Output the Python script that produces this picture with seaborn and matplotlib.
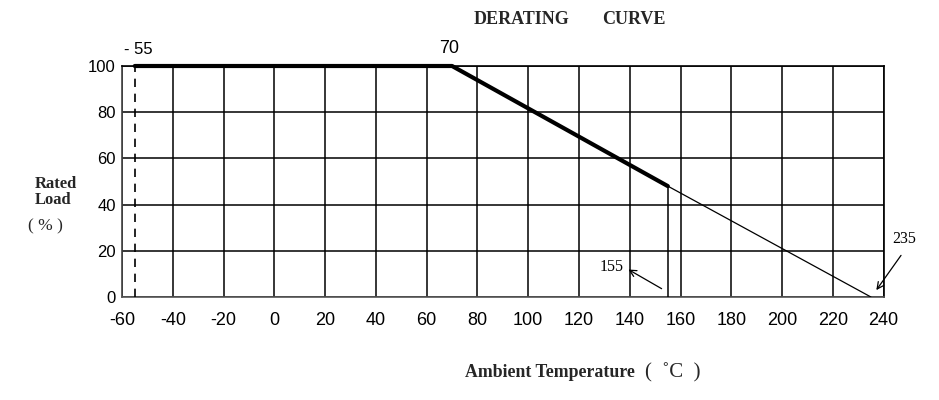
import matplotlib
matplotlib.use("Agg")
import matplotlib.pyplot as plt
import seaborn as sns
import pandas as pd

# ---- data ----
rated_temp = [-55, 70, 155]
rated_load = [100, 100, 48]
ext_temp = [155, 235]
ext_load = [48, 0]
min_temp = -55
x_ticks = [-60, -40, -20, 0, 20, 40, 60, 80, 100, 120, 140, 160, 180, 200, 220, 240]
y_ticks = [0, 20, 40, 60, 80, 100]

sns.set_theme(style="white")
plt.rcParams['font.family'] = ['Liberation Sans', 'DejaVu Sans']
plt.rcParams['axes.unicode_minus'] = False

fig = plt.figure(figsize=(9.39, 4.0), dpi=100)
ax = fig.add_axes([0.130, 0.2575, 0.811, 0.5775])

df_rated = pd.DataFrame({"temp": rated_temp, "load": rated_load})
df_ext = pd.DataFrame({"temp": ext_temp, "load": ext_load})

# grid
ax.set_xlim(x_ticks[0], x_ticks[-1])
ax.set_ylim(y_ticks[0], y_ticks[-1])
ax.set_xticks(x_ticks)
ax.set_yticks(y_ticks)
ax.set_xticklabels([str(t) for t in x_ticks])
ax.set_yticklabels([str(t) for t in y_ticks])
ax.grid(True, color="black", linewidth=1.1)
ax.set_axisbelow(True)
for s in ax.spines.values():
    s.set_color("black")
    s.set_linewidth(1.2)
ax.spines["bottom"].set_color("#555555")
ax.spines["left"].set_color("#444444")

# curves
sns.lineplot(data=df_rated, x="temp", y="load", ax=ax, color="black",
             linewidth=3.0, sort=False, clip_on=False, zorder=5)
sns.lineplot(data=df_ext, x="temp", y="load", ax=ax, color="black",
             linewidth=0.9, sort=False, zorder=5)
# dashed line at -55
ax.plot([min_temp, min_temp], [0, 100], color="black", linewidth=1.2,
        linestyle=(0, (5, 4)), zorder=4)
# vertical line at 155
ax.plot([rated_temp[-1], rated_temp[-1]], [0, rated_load[-1]], color="black",
        linewidth=1.1, zorder=4)

ax.set_xlabel("")
ax.set_ylabel("")
ax.tick_params(axis="both", length=0)
ax.tick_params(axis="x", pad=11, labelsize=13, colors="black")
ax.tick_params(axis="y", pad=4.5, labelsize=12, colors="black")

# annotations
ax.text(-53.5, 104, "- 55", fontsize=12, ha="center", va="bottom", color="black")
ax.text(69, 104, "70", fontsize=13, ha="center", va="bottom", color="black")
ax.text(133, 13, "155", fontsize=11.5, ha="center", va="center", color="black",
        family=["Liberation Serif"])
ax.annotate("", xy=(138.5, 12.5), xytext=(153.5, 3),
            arrowprops=dict(arrowstyle="->", color="black", lw=0.9))
ax.text(248, 25, "235", fontsize=11.5, ha="center", va="center", color="black",
        family=["Liberation Serif"], clip_on=False)
ax.annotate("", xy=(236.5, 2), xytext=(247.5, 19),
            arrowprops=dict(arrowstyle="->", color="black", lw=0.9),
            annotation_clip=False)

# titles / labels
serif = ["Liberation Serif", "DejaVu Serif"]
fig.text(0.504, 0.950, "DERATING", fontsize=13, fontweight="bold",
         family=serif, ha="left", va="center")
fig.text(0.641, 0.950, "CURVE", fontsize=13, fontweight="bold",
         family=serif, ha="left", va="center")
fig.text(0.037, 0.520, "Rated\nLoad", fontsize=12, fontweight="bold",
         family=serif, ha="left", va="center", linespacing=0.95)
fig.text(0.030, 0.433, "( % )", fontsize=12.5, family=serif, ha="left", va="center")
fig.text(0.495, 0.068, "Ambient Temperature", fontsize=12.8, fontweight="bold",
         family=serif, ha="left", va="center")
fig.text(0.687, 0.068, "(  ˚C  )", fontsize=15, family=serif, ha="left", va="center")

fig.savefig("out.png", dpi=100, facecolor="white")
